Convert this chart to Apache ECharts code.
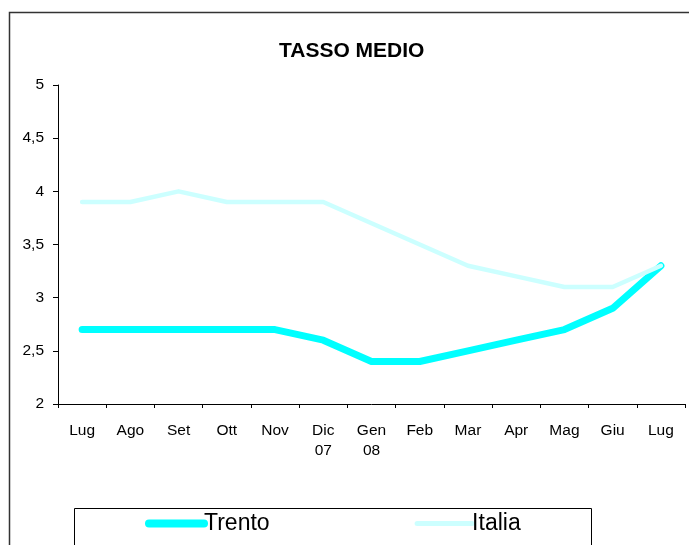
<!DOCTYPE html>
<html>
<head>
<meta charset="utf-8">
<script src="https://cdn.jsdelivr.net/npm/echarts@6/dist/echarts.min.js"></script>
<style>
  html, body { margin: 0; padding: 0; background: #fff; }
  #main { width: 689px; height: 545px; }
</style>
</head>
<body>
<div id="main"></div>
<script>
// mesi da luglio 2007 a luglio 2008
var months = ['Lug', 'Ago', 'Set', 'Ott', 'Nov', 'Dic\n07', 'Gen\n08', 'Feb', 'Mar', 'Apr', 'Mag', 'Giu', 'Lug'];
var trento = [2.7, 2.7, 2.7, 2.7, 2.7, 2.6, 2.4, 2.4, 2.5, 2.6, 2.7, 2.9, 3.3];
var italia = [3.9, 3.9, 4.0, 3.9, 3.9, 3.9, 3.7, 3.5, 3.3, 3.2, 3.1, 3.1, 3.3];
var yTicks = [2, 2.5, 3, 3.5, 4, 4.5, 5];

var chartDom = document.getElementById('main');
var myChart = echarts.init(chartDom);
var option;
var font = 'Liberation Sans, Arial, sans-serif';

option = {
    animation: false,
    backgroundColor: '#fff',
    textStyle: { fontFamily: font, color: '#000' },
    title: {
        text: 'TASSO MEDIO',
        left: 274,
        top: 36,
        textStyle: { fontSize: 21, fontWeight: 'bold', color: '#000', fontFamily: font }
    },
    graphic: [
        {   // cornice del grafico
            type: 'rect',
            shape: { x: 9.5, y: 12.5, width: 720, height: 600 },
            style: { fill: 'none', stroke: '#333', lineWidth: 1.5 },
            silent: true
        },
        {   // riquadro legenda
            type: 'rect',
            shape: { x: 74.5, y: 508.5, width: 517, height: 60 },
            style: { fill: 'none', stroke: '#000', lineWidth: 1 },
            silent: true
        }
    ],
    legend: {
        data: [
            { name: 'Trento', itemStyle: { opacity: 0 }, lineStyle: { width: 8, cap: 'round' } },
            { name: 'Italia', itemStyle: { opacity: 0 }, lineStyle: { width: 5, cap: 'round' } }
        ],
        left: 145,
        top: 512,
        padding: 0,
        itemWidth: 55,
        itemHeight: 24,
        itemGap: 145,
        textStyle: { fontSize: 23, color: '#000', fontFamily: font, padding: [13, 0, 0, -5] }
    },
    grid: {
        left: 58,
        right: 4,
        top: 85,
        bottom: 141,
        containLabel: false
    },
    xAxis: {
        type: 'category',
        data: months,
        boundaryGap: true,
        axisLine: { lineStyle: { color: '#000', width: 1 } },
        axisTick: { show: true, length: 4, inside: false, lineStyle: { color: '#000' } },
        axisLabel: { fontSize: 15.5, color: '#000', margin: 17, lineHeight: 20, interval: 0 }
    },
    yAxis: {
        type: 'value',
        min: yTicks[0],
        max: yTicks[yTicks.length - 1],
        interval: 0.5,
        splitLine: { show: false },
        axisLine: { show: true, lineStyle: { color: '#000', width: 1 } },
        axisTick: { show: true, length: 5, lineStyle: { color: '#000' } },
        axisLabel: {
            fontSize: 15.5, color: '#000', margin: 14,
            formatter: function (v) { return String(v).replace('.', ','); }
        }
    },
    series: [
        {
            name: 'Trento',
            type: 'line',
            data: trento,
            showSymbol: false,
            symbol: 'none',
            color: '#00ffff',
            lineStyle: { color: '#00ffff', width: 7, cap: 'round', join: 'round' }
        },
        {
            name: 'Italia',
            type: 'line',
            data: italia,
            showSymbol: false,
            symbol: 'none',
            color: '#ccffff',
            lineStyle: { color: '#ccffff', width: 4.5, cap: 'round', join: 'round' }
        }
    ]
};

option && myChart.setOption(option);
</script>
</body>
</html>
